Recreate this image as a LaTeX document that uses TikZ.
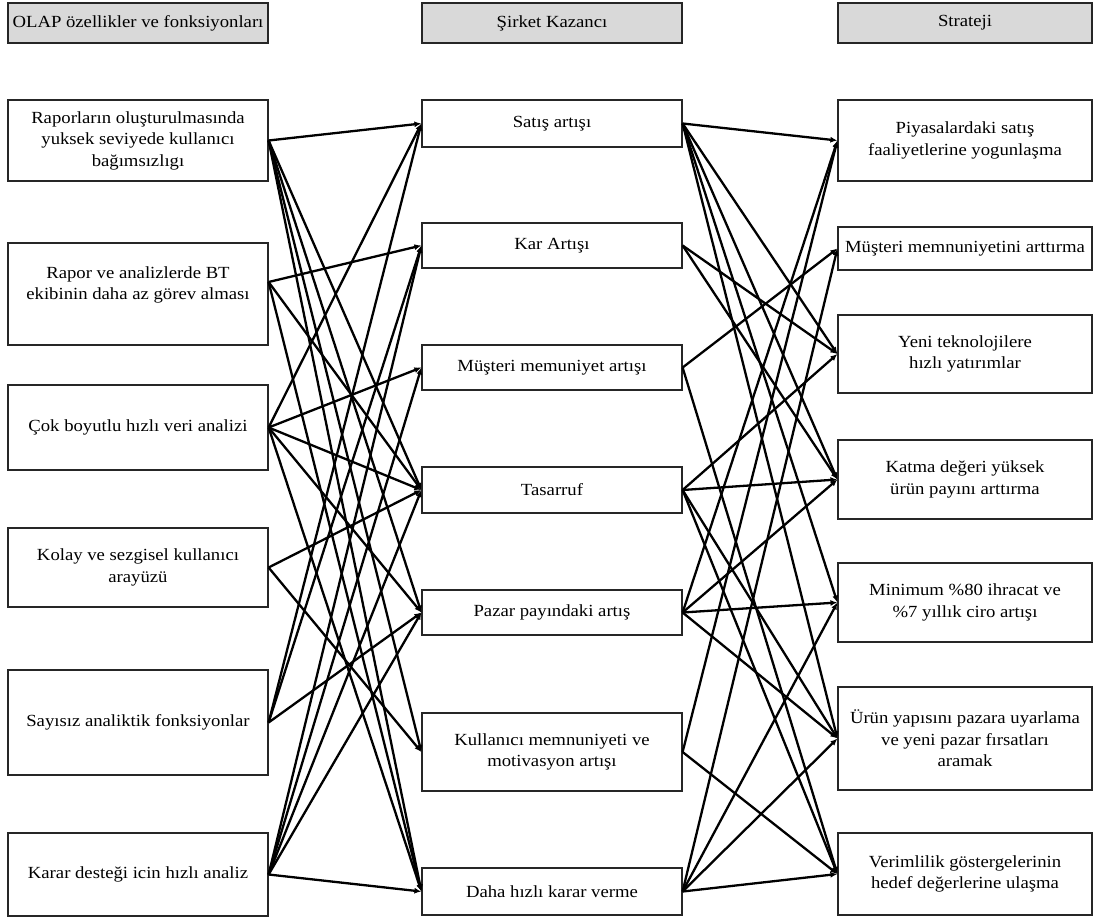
\documentclass[tikz,border=0pt]{standalone}
\usepackage{fontspec}
\setmainfont{Liberation Serif}[FakeStretch=1.1]
\usetikzlibrary{arrows.meta}
\begin{document}
\begin{tikzpicture}[x=1pt,y=-1pt,
  box/.style={draw=black!85, line width=1.2pt, align=center, inner sep=0pt, fill=white,
    font=\fontsize{17}{21.5}\selectfont},
  lbox/.style={box, minimum width=260pt},
  rbox/.style={box, minimum width=254pt},
  head/.style={fill=black!15, minimum height=40pt},
  link/.style={line width=2.3pt, -{Latex[length=7pt,width=6pt]}}]
\useasboundingbox (0,0) rectangle (1097,918);
% headers
\node[lbox, head] (H1) at (138,23) {OLAP özellikler ve fonksiyonları};
\node[lbox, head] (H2) at (552,23) {Şirket Kazancı};
\node[rbox, head] (H3) at (965,23) {Strateji};
% left column
\node[lbox, minimum height=81pt] (L1) at (138,140.5) {Raporların oluşturulmasında\\yuksek seviyede kullanıcı\\bağımsızlıgı};
\node[lbox, minimum height=102pt] (L2) at (138,294) {Rapor ve analizlerde BT\\ekibinin daha az görev alması\\\mbox{}};
\node[lbox, minimum height=85pt] (L3) at (138,427.5) {Çok boyutlu hızlı veri analizi};
\node[lbox, minimum height=79pt] (L4) at (138,567.5) {Kolay ve sezgisel kullanıcı\\arayüzü};
\node[lbox, minimum height=105pt] (L5) at (138,722.5) {Sayısız analiktik fonksiyonlar};
\node[lbox, minimum height=83pt] (L6) at (138,874.5) {Karar desteği icin hızlı analiz};
% middle column
\node[lbox, minimum height=47pt] (M1) at (552,123.5) {Satış artışı};
\node[lbox, minimum height=45pt] (M2) at (552,245.5) {Kar Artışı};
\node[lbox, minimum height=45pt] (M3) at (552,367.5) {Müşteri memuniyet artışı};
\node[lbox, minimum height=46pt] (M4) at (552,490) {Tasarruf};
\node[lbox, minimum height=45pt] (M5) at (552,612.5) {Pazar payındaki artış};
\node[lbox, minimum height=78pt] (M6) at (552,752) {Kullanıcı memnuniyeti ve\\motivasyon artışı};
\node[lbox, minimum height=47pt] (M7) at (552,891.5) {Daha hızlı karar verme};
% right column
\node[rbox, minimum height=81pt] (R1) at (965,140.5) {Piyasalardaki satış\\faaliyetlerine yogunlaşma};
\node[rbox, minimum height=43pt] (R2) at (965,248.5) {Müşteri memnuniyetini arttırma};
\node[rbox, minimum height=78pt] (R3) at (965,354) {Yeni teknolojilere\\hızlı yatırımlar};
\node[rbox, minimum height=79pt] (R4) at (965,479.5) {Katma değeri yüksek\\ürün payını arttırma};
\node[rbox, minimum height=79pt] (R5) at (965,602.5) {Minimum \%80 ihracat ve\\\%7 yıllık ciro artışı};
\node[rbox, minimum height=103pt] (R6) at (965,738.5) {Ürün yapısını pazara uyarlama\\ve yeni pazar fırsatları\\aramak};
\node[rbox, minimum height=82pt] (R7) at (965,874) {Verimlilik göstergelerinin\\hedef değerlerine ulaşma};
% left -> middle
\foreach \s/\t in {L1/M1,L1/M4,L1/M5,L1/M6,L1/M7,
                   L3/M1,L3/M3,L3/M4,L3/M5,L3/M7,
                   L4/M4,L4/M6,
                   L5/M1,L5/M2,L5/M5,
                   L6/M2,L6/M3,L6/M4,L6/M5,L6/M7}
  \draw[link] (\s.east) -- (\t.west);
\foreach \t in {M2,M4,M7}
  \draw[link] ([yshift=12pt]L2.east) -- (\t.west);
% middle -> right
\foreach \s/\t in {M1/R1,M1/R3,M1/R4,M1/R5,M1/R6,
                   M2/R3,M2/R4,
                   M3/R2,M3/R7,
                   M4/R3,M4/R4,M4/R6,M4/R7,
                   M5/R1,M5/R4,M5/R5,M5/R6,
                   M6/R1,M6/R7,
                   M7/R2,M7/R5,M7/R6,M7/R7}
  \draw[link] (\s.east) -- (\t.west);
\end{tikzpicture}
\end{document}
